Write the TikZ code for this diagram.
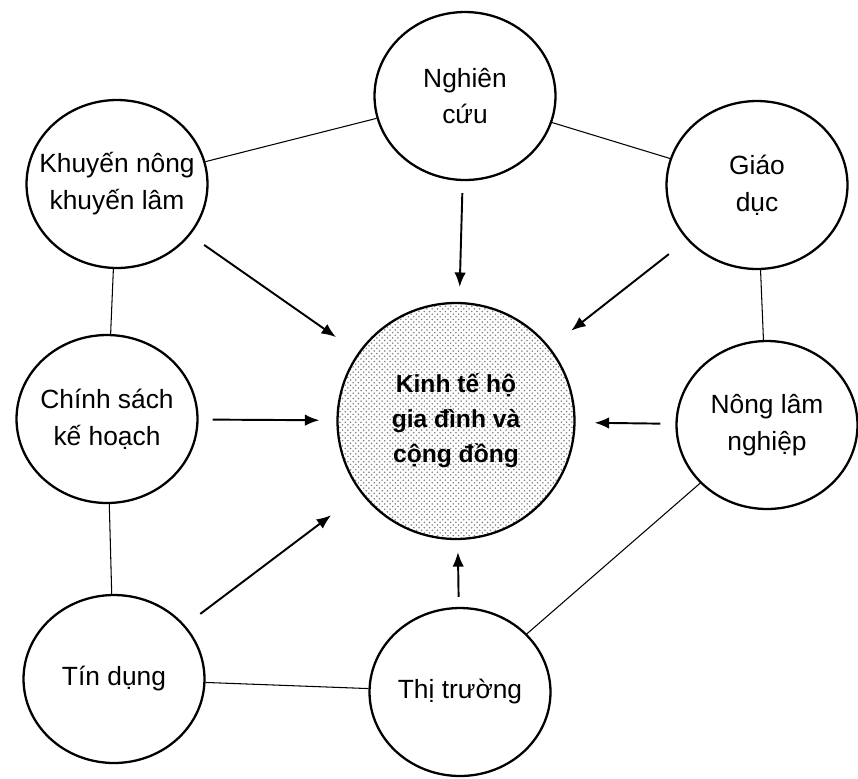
\documentclass[tikz,border=0pt]{standalone}
\usepackage{fontspec}
\setmainfont{Liberation Sans}
\usepackage{tikz}
\usetikzlibrary{arrows.meta, shapes.geometric, patterns}

\begin{document}
\begin{tikzpicture}[
  x=0.02cm, y=-0.02cm,
  every node/.style={font=\fontsize{15}{21}\selectfont},
  factor/.style={draw, ellipse, line width=1.3pt, minimum width=3.62cm,
                 minimum height=3.36cm, inner xsep=-9pt, inner ysep=0pt,
                 align=center},
  hub/.style={factor, minimum width=4.74cm, minimum height=4.72cm,
              pattern=crosshatch dots, pattern color=black!50,
              font=\fontsize{14}{20}\selectfont\bfseries},
  link/.style={line width=0.6pt},
  arr/.style={-{Latex[length=2.9mm, width=2.3mm]}, line width=1.1pt},
]
  \useasboundingbox (0, 0) rectangle (858, 778);

  \node[hub] (hub) at (456, 421) {Kinh tế hộ\\gia đình và\\cộng đồng};

  \node[factor] (nghien) at (465, 96)  {Nghiên\\cứu};
  \node[factor] (khuyen) at (117, 184) {Khuyến nông\\khuyến lâm};
  \node[factor] (giao)   at (757, 185) {Giáo\\dục};
  \node[factor] (chinh)  at (107, 419) {Chính sách\\kế hoạch};
  \node[factor] (nong)   at (767, 425) {Nông lâm\\nghiệp};
  \node[factor] (tin)    at (114, 679) {Tín dụng};
  \node[factor] (thi)    at (460, 692) {Thị trường};

  % outer ring
  \draw[link] (khuyen) -- (nghien);
  \draw[link] (nghien) -- (giao);
  \draw[link] (khuyen) -- (chinh);
  \draw[link] (giao) -- (nong);
  \draw[link] (chinh) -- (tin);
  \draw[link] (tin) -- (thi);
  \draw[link] (thi) -- (nong);

  % influences on the household
  \draw[arr, shorten <=2.4mm, shorten >=3mm]   (nghien) -- (hub);
  \draw[arr, shorten <=3.4mm, shorten >=5.4mm] (khuyen) -- (hub);
  \draw[arr, shorten <=4.6mm, shorten >=5.4mm] (giao) -- (hub);
  \draw[arr, shorten <=2.8mm, shorten >=3.4mm] (chinh) -- (hub);
  \draw[arr, shorten <=3mm, shorten >=3.8mm]   (nong) -- (hub);
  \draw[arr, shorten <=3.8mm, shorten >=7.4mm] (tin) -- (hub);
  \draw[arr, shorten <=2mm, shorten >=2.4mm]   (thi) -- (hub);
\end{tikzpicture}
\end{document}
